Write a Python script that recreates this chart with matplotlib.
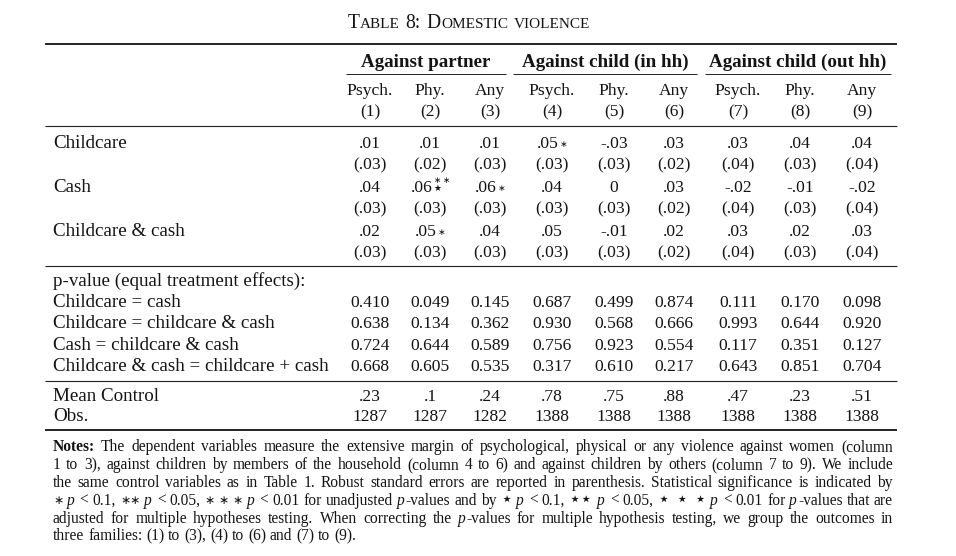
import matplotlib
matplotlib.use("Agg")
import matplotlib.pyplot as plt

# ------------------------------------------------------------------ data
title = "Table 8: Domestic violence"
groups = ["Against partner", "Against child (in hh)", "Against child (out hh)"]
outcomes = ["Psych.", "Phy.", "Any", "Psych.", "Phy.", "Any", "Psych.", "Phy.", "Any"]
col_ids = ["(1)", "(2)", "(3)", "(4)", "(5)", "(6)", "(7)", "(8)", "(9)"]

treatments = ["Childcare", "Cash", "Childcare & cash"]
coef_childcare = [".01", ".01", ".01", ".05", "-.03", ".03", ".03", ".04", ".04"]
coef_cash = [".04", ".06", ".06", ".04", "0", ".03", "-.02", "-.01", "-.02"]
coef_both = [".02", ".05", ".04", ".05", "-.01", ".02", ".03", ".02", ".03"]
se_childcare = ["(.03)", "(.02)", "(.03)", "(.03)", "(.03)", "(.02)", "(.04)", "(.03)", "(.04)"]
se_cash = ["(.03)", "(.03)", "(.03)", "(.03)", "(.03)", "(.02)", "(.04)", "(.03)", "(.04)"]
se_both = ["(.03)", "(.03)", "(.03)", "(.03)", "(.03)", "(.02)", "(.04)", "(.03)", "(.04)"]
# significance stars: unadjusted (asterisks) and adjusted (stars)
unadj_childcare = [0, 0, 0, 1, 0, 0, 0, 0, 0]
unadj_cash = [0, 2, 1, 0, 0, 0, 0, 0, 0]
unadj_both = [0, 1, 0, 0, 0, 0, 0, 0, 0]
adj_childcare = [0, 0, 0, 0, 0, 0, 0, 0, 0]
adj_cash = [0, 1, 0, 0, 0, 0, 0, 0, 0]
adj_both = [0, 0, 0, 0, 0, 0, 0, 0, 0]

pv_heading = "p-value (equal treatment effects):"
pv_labels = ["Childcare = cash", "Childcare = childcare & cash",
             "Cash = childcare & cash", "Childcare & cash = childcare + cash"]
pv_childcare_cash = [0.410, 0.049, 0.145, 0.687, 0.499, 0.874, 0.111, 0.170, 0.098]
pv_childcare_both = [0.638, 0.134, 0.362, 0.930, 0.568, 0.666, 0.993, 0.644, 0.920]
pv_cash_both = [0.724, 0.644, 0.589, 0.756, 0.923, 0.554, 0.117, 0.351, 0.127]
pv_both_sum = [0.668, 0.605, 0.535, 0.317, 0.610, 0.217, 0.643, 0.851, 0.704]

mean_control = [".23", ".1", ".24", ".78", ".75", ".88", ".47", ".23", ".51"]
obs = [1287, 1287, 1282, 1388, 1388, 1388, 1388, 1388, 1388]

notes_lines = [
    "Notes: The dependent variables measure the extensive margin of psychological, physical or any violence against women (column",
    "1 to 3), against children by members of the household (column 4 to 6) and against children by others (column 7 to 9). We include",
    "the same control variables as in Table 1. Robust standard errors are reported in parenthesis. Statistical significance is indicated by",
    "\u2217 p < 0.1, \u2217\u2217 p < 0.05, \u2217\u00a0\u2217\u00a0\u2217 p < 0.01 for unadjusted p-values and by \u22c6 p < 0.1, \u22c6\u22c6 p < 0.05, \u22c6\u00a0\u22c6\u00a0\u22c6 p < 0.01 for p-values that are",
    "adjusted for multiple hypotheses testing. When correcting the p-values for multiple hypothesis testing, we group the outcomes in",
    "three families: (1) to (3), (4) to (6) and (7) to (9).",
]

# ------------------------------------------------------------------ layout
W, H = 956, 556
fig = plt.figure(figsize=(W / 100, H / 100), dpi=100)
fig.patch.set_facecolor("white")
ax = fig.add_axes([0, 0, 1, 1])
ax.set_xlim(0, W)
ax.set_ylim(H, 0)
ax.axis("off")
R = fig.canvas.get_renderer()

SERIF = ["Liberation Serif", "DejaVu Sans"]
SYM = ["DejaVu Sans"]
INK = "#141414"

X0, X1 = 45, 897
LABEL_X = 53
col_x = [370, 430, 490, 552, 614, 674, 738, 800, 862]
group_spans = [(346, 506), (513, 697), (705, 891)]


def tw(s, **kw):
    if not s:
        return 0.0
    t = ax.text(0, 0, s, **kw)
    w = t.get_window_extent(R).width
    t.remove()
    return w


def space_w(**kw):
    return tw("a a", **kw) - tw("aa", **kw)


def fit(s, target, base=13.0, **kw):
    return base * target / tw(s, fontsize=base, **kw)


FS_LAB = fit("Childcare & cash = childcare + cash", 276, family=SERIF)
FS_NUM = fit("0.410", 39, family=SERIF)
FS_HEAD = fit("Against child (out hh)", 176, family=SERIF, fontweight="bold")


def txt(x, y, s, fs, ha="left", **kw):
    ax.text(x, y, s, fontsize=fs, family=kw.pop("family", SERIF), color=INK,
            ha=ha, va="baseline", **kw)


# ---- title in small caps
def smallcaps(xc, y, s, big, small):
    words = s.split(" ")
    pieces = []  # (text, size)
    for w in words:
        runs = []
        for ch in w:
            low = ch.islower()
            if runs and runs[-1][1] == low:
                runs[-1][0] += ch
            else:
                runs.append([ch, low])
        pieces.append([(r.upper() if low else r, small if low else big) for r, low in runs])
    sp = space_w(fontsize=big, family=SERIF)
    widths = [[tw(t, fontsize=f, family=SERIF) + 0.6 for t, f in wd] for wd in pieces]
    total = sum(sum(w) for w in widths) + sp * (len(pieces) - 1)
    x = xc - total / 2
    for wd, ws in zip(pieces, widths):
        for (t, f), w in zip(wd, ws):
            txt(x, y, t, f)
            x += w
        x += sp


FS_TITLE = fit("TABLE 8: DOMESTIC VIOLENCE", 288, family=SERIF)
smallcaps(469, 28, title, FS_TITLE, FS_TITLE * 0.78)

# ---- rules
def rule(y, x0=X0, x1=X1, lw=0.8):
    ax.plot([x0, x1], [y, y], color="#222222", lw=lw, solid_capstyle="butt")


rule(44, lw=1.4)
for a, b in group_spans:
    rule(74, a, b, lw=0.7)
rule(126, lw=0.8)
rule(266, lw=0.8)
rule(381, lw=0.8)
rule(430, lw=1.4)

# ---- header
for (a, b), g in zip(group_spans, groups):
    txt((a + b) / 2, 67, g, FS_HEAD, ha="center", fontweight="bold")
for x, o, c in zip(col_x, outcomes, col_ids):
    txt(x, 95, o, FS_NUM, ha="center")
    txt(x, 116, c, FS_NUM, ha="center")

# ---- coefficient rows
AST_FS = FS_NUM * 0.52


def star_mark(n_un, n_ad):
    """Mathtext string: asterisks as superscript, stars as subscript."""
    sup = r"\ast" * n_un
    sub = r"\bigstar" * n_ad
    return "${}^{" + sup + "}_{" + sub + "}$"


def cell(x, y, num, n_un, n_ad):
    wn = tw(num, fontsize=FS_NUM, family=SERIF)
    if n_un and n_ad:
        mark = star_mark(n_un, n_ad)
        mfs = FS_NUM * 0.72
        wm = tw(mark, fontsize=mfs, family=SYM)
        x0 = x - (wn + wm) / 2
        txt(x0, y, num, FS_NUM)
        txt(x0 + wn + 0.5, y - 3.5, mark, mfs, family=SYM)
        return
    s = "\u2217" * n_un + "\u22c6" * n_ad
    ws = tw(s, fontsize=AST_FS, family=SYM)
    gap = 0.5 if s else 0.0
    x0 = x - (wn + gap + ws) / 2
    txt(x0, y, num, FS_NUM)
    if s:
        txt(x0 + wn + gap, y - 1, s, AST_FS, family=SYM)


coef_rows = [coef_childcare, coef_cash, coef_both]
se_rows = [se_childcare, se_cash, se_both]
un_rows = [unadj_childcare, unadj_cash, unadj_both]
ad_rows = [adj_childcare, adj_cash, adj_both]
coef_y = [148, 192, 236]
for lab, cr, sr, ur, ar, y in zip(treatments, coef_rows, se_rows, un_rows, ad_rows, coef_y):
    txt(LABEL_X, y, lab, FS_LAB)
    for x, c, s, u, a in zip(col_x, cr, sr, ur, ar):
        cell(x, y, c, u, a)
        txt(x, y + 21, s, FS_NUM, ha="center")

# ---- p-values
txt(LABEL_X, 286, pv_heading, FS_LAB)
pv_rows = [pv_childcare_cash, pv_childcare_both, pv_cash_both, pv_both_sum]
for i, (lab, row) in enumerate(zip(pv_labels, pv_rows)):
    y = 307 + 21.3 * i
    txt(LABEL_X, y, lab, FS_LAB)
    for x, v in zip(col_x, row):
        txt(x, y, f"{v:.3f}", FS_NUM, ha="center")

# ---- mean control / obs
txt(LABEL_X, 401, "Mean Control", FS_LAB)
txt(LABEL_X, 421, "Obs.", FS_LAB)
for x, m, n in zip(col_x, mean_control, obs):
    txt(x, 401, m, FS_NUM, ha="center")
    txt(x, 421, str(n), FS_NUM, ha="center")

# ---- notes (justified)
NOTE_X0, NOTE_X1 = 53, 893
STYLE = {"normal": {}, "bold": {"fontweight": "bold"}, "italic": {"fontstyle": "italic"},
         "ast": {"family": SYM}, "star": {"family": SYM}}
SIZE = {"normal": 1.0, "bold": 1.0, "italic": 1.0, "ast": 0.78, "star": 1.25}
SHIFT = {"ast": -0.5, "star": 0.0}


def segments(w):
    if w == "Notes:":
        return [(w, "bold")]
    if w == "p":
        return [("p", "italic")]
    if w.startswith("p-"):
        return [("p", "italic"), (w[1:], "normal")]
    if set(w) <= {"\u2217", "\u00a0"}:
        return [(w, "ast")]
    if set(w) <= {"\u22c6", "\u00a0"}:
        return [(w, "star")]
    return [(w, "normal")]


def seg_kw(style, fs):
    kw = dict(fontsize=fs * SIZE[style], family=SERIF)
    kw.update(STYLE[style])
    return kw


def measure_line(line, fs):
    words = line.split(" ")
    out = []
    for w in words:
        segs = segments(w)
        ws = [tw(t, **seg_kw(st, fs)) + (0.8 if st == "italic" else 0.0) for t, st in segs]
        out.append((segs, ws))
    return out


fs_note = 11.0
sp = space_w(fontsize=fs_note, family=SERIF)
nat = []
for line in notes_lines[:-1]:
    m = measure_line(line, fs_note)
    nat.append(sum(sum(ws) for _, ws in m) + sp * (len(m) - 1))
fs_note *= 0.995 * (NOTE_X1 - NOTE_X0) / max(nat)
sp = space_w(fontsize=fs_note, family=SERIF)

for i, line in enumerate(notes_lines):
    y = 451 + 17.9 * i
    m = measure_line(line, fs_note)
    total_words = sum(sum(ws) for _, ws in m)
    if i < len(notes_lines) - 1:
        gap = (NOTE_X1 - NOTE_X0 - total_words) / (len(m) - 1)
    else:
        gap = sp
    x = NOTE_X0
    for segs, ws in m:
        for (t, st), w in zip(segs, ws):
            kw = seg_kw(st, fs_note)
            fs = kw.pop("fontsize")
            txt(x, y + SHIFT.get(st, 0.0), t, fs, **kw)
            x += w
        x += gap

fig.savefig("out.png", dpi=100, facecolor="white")
